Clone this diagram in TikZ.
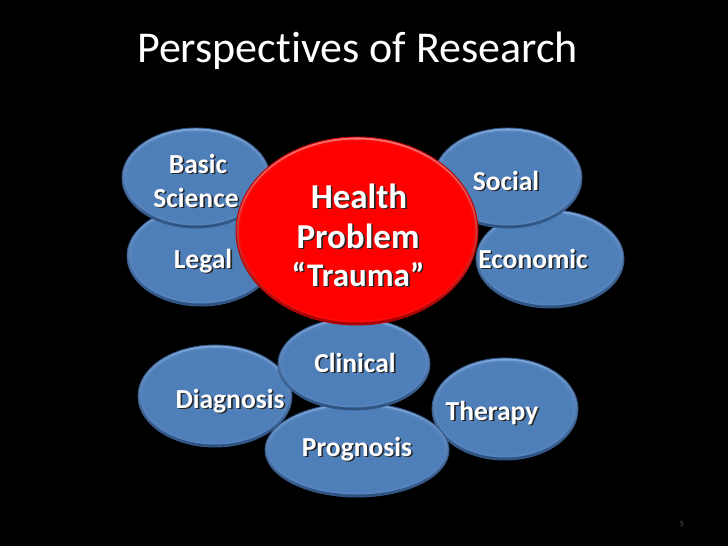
\documentclass[tikz,border=0pt]{standalone}
\usepackage{fontspec}
\setmainfont{Carlito}[Ligatures=NoCommon]
\usetikzlibrary{shapes.geometric}
\definecolor{bluemid}{HTML}{4F7FB9}
\definecolor{bluehalf}{HTML}{5584BE}
\definecolor{bluetop}{HTML}{7EA8DA}
\definecolor{bluebot}{HTML}{2C4F7C}
\definecolor{blueline}{HTML}{34598A}
\definecolor{redmid}{HTML}{FF0000}
\definecolor{redhalf}{HTML}{FA0A0A}
\definecolor{redtop}{HTML}{FF7070}
\definecolor{redbot}{HTML}{A00000}
\definecolor{redline}{HTML}{B80000}
\definecolor{pagenum}{HTML}{555555}

\newcommand\shd[1]{\leavevmode\rlap{\hspace{1.6pt}\raisebox{-1.6pt}{\color{black!85}#1}}#1}

% name, x, y, rx, ry, colour family
\newcommand\blob[6]{%
  \node[blobshape, top color=#6top, bottom color=#6bot, draw=#6line,
        minimum width={2*#4pt}, minimum height={2*#5pt}] (#1) at (#2,#3) {};
  \fill[#6half] (#1.center) ellipse ({#4-2.5} and {#5-2.5});
  \fill[#6mid] (#1.center) ellipse ({#4-4.5} and {#5-4.5});
}

\tikzset{
  blobshape/.style={ellipse, inner sep=0pt, line width=0.9pt},
  lbl/.style={anchor=base, text=white, font=\bfseries\fontsize{27.5}{31}\selectfont, inner sep=0pt},
  biglbl/.style={anchor=base, text=white, font=\bfseries\fontsize{35}{40}\selectfont, inner sep=0pt},
  midlbl/.style={anchor=base, text=white, font=\bfseries\fontsize{33}{37}\selectfont, inner sep=0pt},
}

\begin{document}
\begin{tikzpicture}[x=1pt, y=-1pt]
\useasboundingbox (0,0) rectangle (728,546);
\fill[black] (0,0) rectangle (728,546);

\node[anchor=base west, text=white, font=\fontsize{44}{50}\selectfont, inner sep=0pt] (title) at (137,62) {Perspectives of Research};

\blob{legal}{201}{256}{74}{50}{blue}
\blob{basic}{196}{178}{74}{50}{blue}
\blob{economic}{550}{259}{74}{49}{blue}
\blob{social}{508}{178}{74}{50}{blue}
\blob{diagnosis}{215}{396}{77}{51}{blue}
\blob{therapy}{505}{409}{73}{51}{blue}
\blob{prognosis}{357}{450}{92}{47}{blue}
\blob{clinical}{354}{364}{76}{46}{blue}
\blob{health}{357}{231}{121}{94}{red}

\node[lbl] (tbasic) at (198,173) {\shd{Basic}};
\node[lbl] (tscience) at (196,207) {\shd{Science}};
\node[lbl] (tlegal) at (203,268) {\shd{Legal}};
\node[lbl] (tsocial) at (506,190) {\shd{Social}};
\node[lbl] (teconomic) at (533,268) {\shd{Economic}};
\node[lbl] (tclinical) at (355,372) {\shd{Clinical}};
\node[lbl] (tdiagnosis) at (230,408) {\shd{Diagnosis}};
\node[lbl] (ttherapy) at (492,420) {\shd{Therapy}};
\node[lbl] (tprognosis) at (357,456) {\shd{Prognosis}};

\node[biglbl] (thealth) at (359,208) {\shd{Health}};
\node[biglbl] (tproblem) at (358,248) {\shd{Problem}};
\node[midlbl] (ttrauma) at (358,286) {\shd{“Trauma”}};

\node[anchor=base, text=pagenum, font=\fontsize{8}{9}\selectfont, inner sep=0pt] (page) at (682,526) {5};
\end{tikzpicture}
\end{document}
